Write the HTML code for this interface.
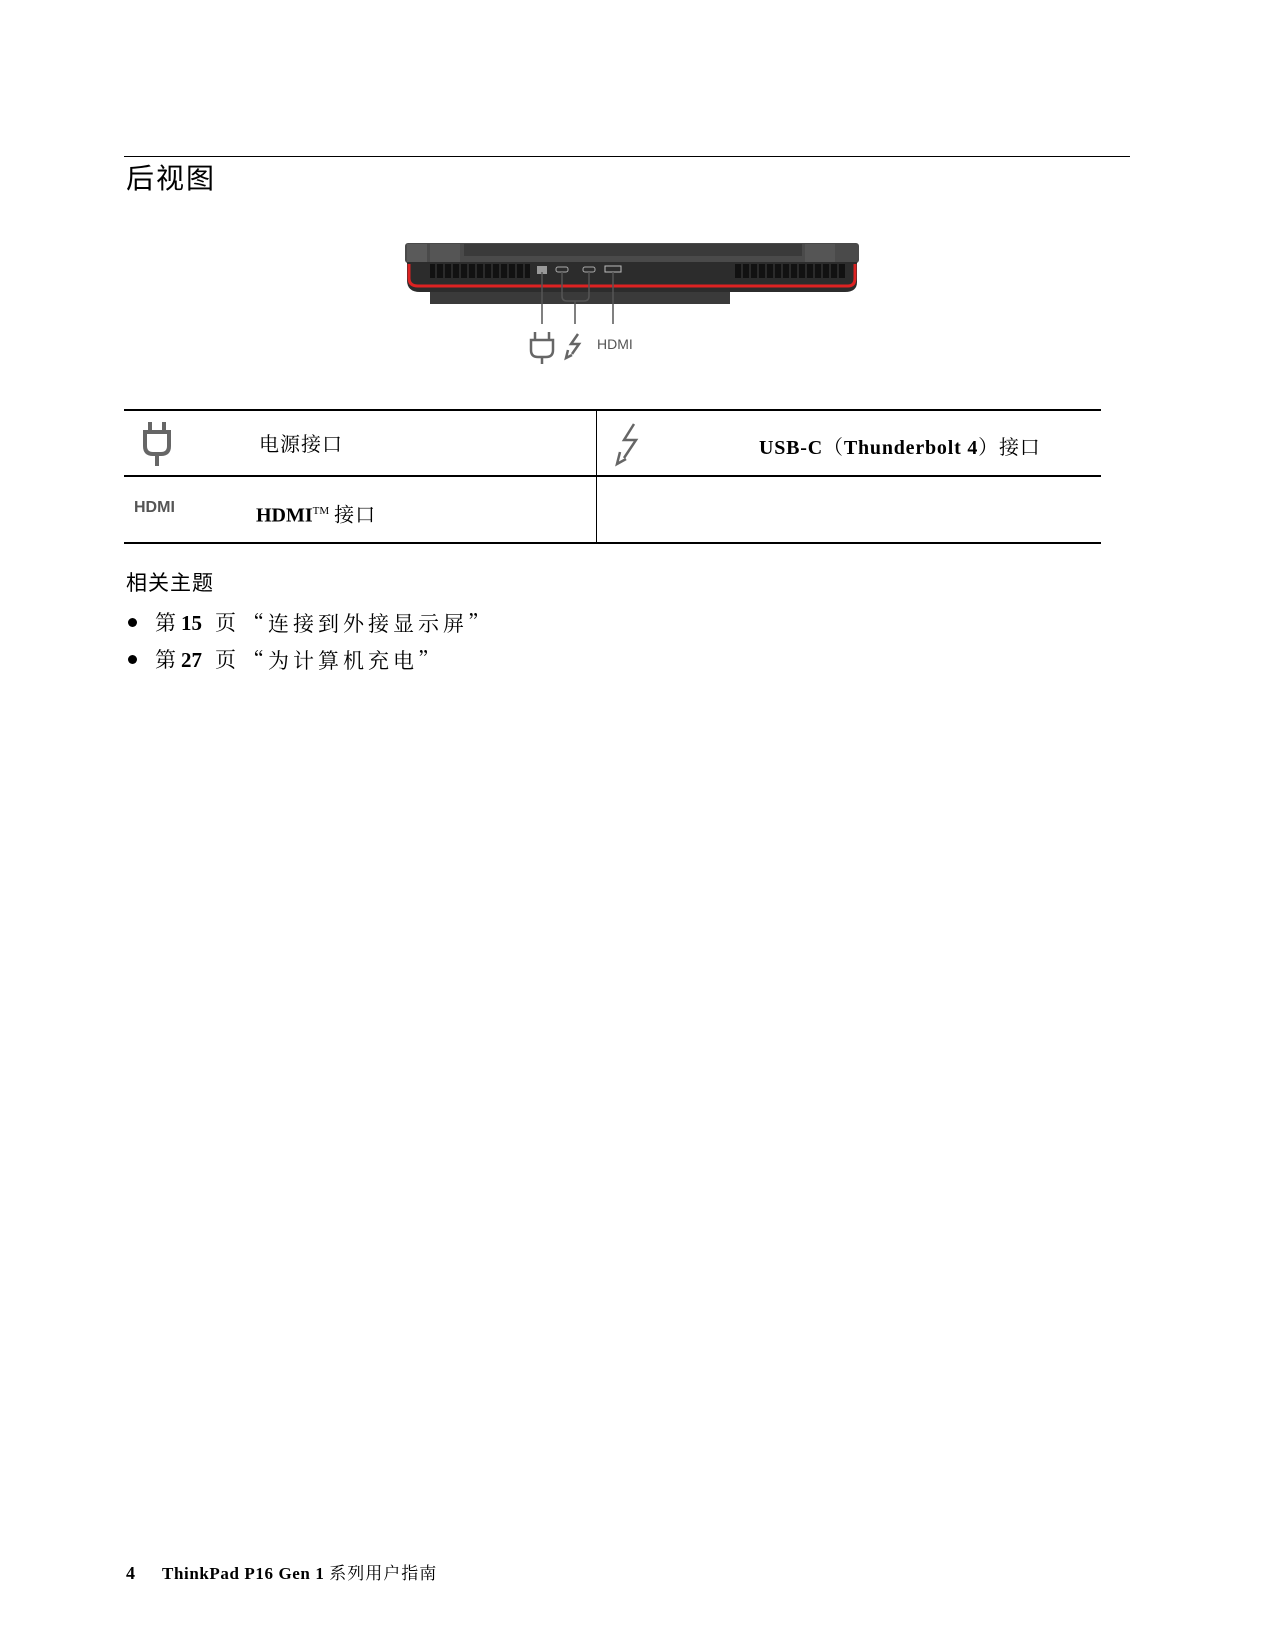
<!DOCTYPE html>
<html><head><meta charset="utf-8"><style>
body{margin:0;background:#fff}
.p{position:relative;width:1275px;height:1650px;overflow:hidden;font-family:"Liberation Serif","Noto Serif CJK SC",serif;color:#000}
.a{position:absolute;white-space:nowrap}
.b{font-weight:bold}
.sans{font-family:"Liberation Sans","Noto Sans CJK SC",sans-serif}
.cq{font-family:"Noto Serif CJK SC",serif}
</style></head><body><div class="p">
<div class="a" style="left:124px;top:156px;width:1006px;height:1px;background:#000"></div>
<div class="a sans" style="left:126px;top:160px;font-size:28px;line-height:38px;letter-spacing:2px">后视图</div>

<svg class="a" style="left:0;top:0" width="1275" height="400">
 <rect x="405" y="243" width="454" height="20" rx="3" fill="#4a4a4a"/>
 <rect x="407" y="244" width="20" height="18" fill="#5a5a5a"/>
 <rect x="430" y="244" width="30" height="18" fill="#555"/>
 <rect x="464" y="244" width="338" height="12" fill="#3a3a3a"/>
 <rect x="805" y="244" width="30" height="18" fill="#555"/>
 <path d="M407 262 L857 262 L857 282 Q857 292 845 292 L420 292 Q407 292 407 280 Z" fill="#2c2c2c"/>
 <path d="M409 264 L409 278 Q409 286 418 286 L848 286 Q855 286 855 278 L855 264" fill="none" stroke="#d22" stroke-width="3"/>
 <rect x="430" y="264" width="100" height="14" fill="#111"/>
 <rect x="735" y="264" width="110" height="14" fill="#111"/>
 <g stroke="#333" stroke-width="1.5">
  <path d="M436 264v14M444 264v14M452 264v14M460 264v14M468 264v14M476 264v14M484 264v14M492 264v14M500 264v14M508 264v14M516 264v14M524 264v14"/>
  <path d="M742 264v14M750 264v14M758 264v14M766 264v14M774 264v14M782 264v14M790 264v14M798 264v14M806 264v14M814 264v14M822 264v14M830 264v14M838 264v14"/>
 </g>
 <rect x="537" y="266" width="10" height="8" fill="#999"/>
 <rect x="556" y="267" width="12" height="5" rx="2" fill="none" stroke="#aaa"/>
 <rect x="583" y="267" width="12" height="5" rx="2" fill="none" stroke="#aaa"/>
 <rect x="605" y="266" width="16" height="6" fill="none" stroke="#bbb"/>
 <rect x="430" y="292" width="300" height="12" fill="#3a3a3a"/>
 <g stroke="#555" stroke-width="1.5" fill="none">
  <path d="M542 272V324"/>
  <path d="M562 272V296Q562 301 567 301H584Q589 301 589 296V272"/>
  <path d="M575 301V324"/>
  <path d="M613 272V324"/>
 </g>
 <g stroke="#666" stroke-width="2.5" fill="none">
  <path d="M535 332v8M549 332v8M531 340h22v10q0 7-7 7h-8q-7 0-7-7z M542 357v7"/>
  <path d="M578 334l-7 10h8l-7 10M568 350l-2 8 6-3"/>
 </g>
 <text x="597" y="349" font-family="Liberation Sans" font-size="14" fill="#555">HDMI</text>
</svg>

<div class="a" style="left:124px;top:409px;width:977px;height:2px;background:#000"></div>
<div class="a" style="left:124px;top:475px;width:977px;height:2px;background:#000"></div>
<div class="a" style="left:124px;top:542px;width:977px;height:2px;background:#000"></div>
<div class="a" style="left:596px;top:410px;width:1px;height:133px;background:#000"></div>
<svg class="a" style="left:140px;top:420px" width="40" height="50"><g stroke="#666" stroke-width="4" fill="none"><path d="M10 2v10M24 2v10M5 12h24v14q0 8-8 8h-8q-8 0-8-8z M17 34v12"/></g></svg>
<svg class="a" style="left:612px;top:422px" width="36" height="50"><g stroke="#666" stroke-width="2.5" fill="none"><path d="M22 2l-10 16h12l-12 18M8 30l-3 12 9-5"/></g></svg>
<div class="a" style="left:259px;top:431px;font-size:20px;line-height:28px;letter-spacing:1px">电源接口</div>
<div class="a b" style="left:759px;top:432px;font-size:20px;line-height:28px;letter-spacing:0.8px">USB-C<span class="cq" style="font-weight:normal">（</span>Thunderbolt 4<span class="cq" style="font-weight:normal">）</span><span style="font-weight:normal">接口</span></div>
<div class="a sans b" style="left:134px;top:499px;font-size:16px;color:#555">HDMI</div>
<div class="a b" style="left:256px;top:497px;font-size:20px;line-height:28px">HDMI<sup style="font-size:11px;font-weight:normal">TM</sup> <span style="font-weight:normal;letter-spacing:1px">接口</span></div>

<div class="a sans" style="left:126px;top:570px;font-size:21px;line-height:28px;letter-spacing:1px">相关主题</div>

<div class="a" style="left:128px;top:618px;width:9px;height:9px;border-radius:50%;background:#000"></div>
<div class="a" style="left:155px;top:609px;font-size:21px;line-height:28px">第</div>
<div class="a b" style="left:181px;top:609px;font-size:21px;line-height:28px">15</div>
<div class="a" style="left:215px;top:609px;font-size:21px;line-height:28px">页</div>
<div class="a cq" style="left:243px;top:609px;font-size:21px;line-height:28px;letter-spacing:4px">“连接到外接显示屏”</div>

<div class="a" style="left:128px;top:655px;width:9px;height:9px;border-radius:50%;background:#000"></div>
<div class="a" style="left:155px;top:646px;font-size:21px;line-height:28px">第</div>
<div class="a b" style="left:181px;top:646px;font-size:21px;line-height:28px">27</div>
<div class="a" style="left:215px;top:646px;font-size:21px;line-height:28px">页</div>
<div class="a cq" style="left:243px;top:646px;font-size:21px;line-height:28px;letter-spacing:4px">“为计算机充电”</div>

<div class="a b" style="left:126px;top:1561px;font-size:18px;line-height:24px">4</div>
<div class="a b" style="left:162px;top:1562px;font-size:17px;line-height:24px;letter-spacing:0.6px">ThinkPad P16 Gen 1 <span style="font-weight:normal;letter-spacing:1px">系列用户指南</span></div>
</div></body></html>
